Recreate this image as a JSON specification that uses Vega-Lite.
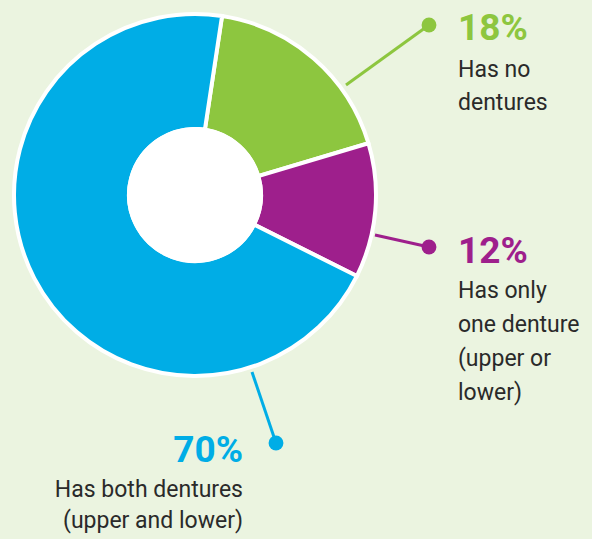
{
  "$schema": "https://vega.github.io/schema/vega-lite/v6.json",
  "width": 390,
  "height": 390,
  "autosize": {"type": "none"},
  "padding": {"left": 0, "top": 0, "right": 202, "bottom": 149},
  "background": "#ebf4e0",
  "config": {"view": {"stroke": null}, "font": "Roboto"},
  "datasets": {
    "slices": [
      {"cat": "No dentures", "pct": 18, "ord": 1},
      {"cat": "One denture", "pct": 12, "ord": 2},
      {"cat": "Both dentures", "pct": 70, "ord": 3}
    ],
    "hole": [{"v": 100}],
    "leaders": [
      {"cat": "No dentures", "x": 346, "y": 85, "x2": 429, "y2": 25},
      {"cat": "One denture", "x": 375, "y": 235, "x2": 429, "y2": 247},
      {"cat": "Both dentures", "x": 252, "y": 372, "x2": 276, "y2": 443}
    ],
    "pcts": [
      {"cat": "No dentures", "t": "18%", "x": 458, "y": 40, "side": "left"},
      {"cat": "One denture", "t": "12%", "x": 458, "y": 263, "side": "left"},
      {"cat": "Both dentures", "t": "70%", "x": 243, "y": 462, "side": "right"}
    ],
    "lines": [
      {"t": "Has no", "x": 458, "y": 77, "side": "left"},
      {"t": "dentures", "x": 458, "y": 110, "side": "left"},
      {"t": "Has only", "x": 458, "y": 298, "side": "left"},
      {"t": "one denture", "x": 458, "y": 332, "side": "left"},
      {"t": "(upper or", "x": 458, "y": 366, "side": "left"},
      {"t": "lower)", "x": 458, "y": 400, "side": "left"},
      {"t": "Has both dentures", "x": 243, "y": 497, "side": "right"},
      {"t": "(upper and lower)", "x": 243, "y": 528, "side": "right"}
    ]
  },
  "layer": [
    {
      "data": {"name": "slices"},
      "mark": {"type": "arc", "outerRadius": 181, "innerRadius": 66, "stroke": "white", "strokeWidth": 4},
      "encoding": {
        "theta": {"field": "pct", "type": "quantitative", "stack": true, "scale": {"domain": [0, 100], "range": [0.15, 6.4332]}},
        "order": {"field": "ord", "type": "quantitative"},
        "color": {"field": "cat", "type": "nominal", "legend": null,
          "scale": {"domain": ["No dentures", "One denture", "Both dentures"], "range": ["#8dc63f", "#9e1f8c", "#00ade6"]}}
      }
    },
    {
      "data": {"name": "hole"},
      "mark": {"type": "arc", "outerRadius": 68, "innerRadius": 0, "fill": "white", "strokeWidth": 0},
      "encoding": {
        "theta": {"field": "v", "type": "quantitative", "stack": null, "scale": null}
      }
    },
    {
      "data": {"name": "leaders"},
      "mark": {"type": "rule", "strokeWidth": 3, "clip": false},
      "encoding": {
        "x": {"field": "x", "type": "quantitative", "axis": null, "scale": {"domain": [0, 390], "nice": false, "zero": false}},
        "y": {"field": "y", "type": "quantitative", "axis": null, "scale": {"domain": [0, 390], "nice": false, "zero": false, "reverse": true}},
        "x2": {"field": "x2"},
        "y2": {"field": "y2"},
        "color": {"field": "cat", "type": "nominal", "legend": null}
      }
    },
    {
      "data": {"name": "leaders"},
      "mark": {"type": "circle", "size": 220, "opacity": 1, "clip": false},
      "encoding": {
        "x": {"field": "x2", "type": "quantitative"},
        "y": {"field": "y2", "type": "quantitative"},
        "color": {"field": "cat", "type": "nominal", "legend": null}
      }
    },
    {
      "data": {"name": "pcts"},
      "transform": [{"filter": "datum.side === 'left'"}],
      "mark": {"type": "text", "align": "left", "baseline": "alphabetic", "fontSize": 37, "fontWeight": "bold", "clip": false},
      "encoding": {
        "x": {"field": "x", "type": "quantitative"},
        "y": {"field": "y", "type": "quantitative"},
        "text": {"field": "t"},
        "color": {"field": "cat", "type": "nominal", "legend": null}
      }
    },
    {
      "data": {"name": "pcts"},
      "transform": [{"filter": "datum.side === 'right'"}],
      "mark": {"type": "text", "align": "right", "baseline": "alphabetic", "fontSize": 37, "fontWeight": "bold", "clip": false},
      "encoding": {
        "x": {"field": "x", "type": "quantitative"},
        "y": {"field": "y", "type": "quantitative"},
        "text": {"field": "t"},
        "color": {"field": "cat", "type": "nominal", "legend": null}
      }
    },
    {
      "data": {"name": "lines"},
      "transform": [{"filter": "datum.side === 'left'"}],
      "mark": {"type": "text", "align": "left", "baseline": "alphabetic", "fontSize": 23, "color": "#2a2a2a", "clip": false},
      "encoding": {
        "x": {"field": "x", "type": "quantitative"},
        "y": {"field": "y", "type": "quantitative"},
        "text": {"field": "t"}
      }
    },
    {
      "data": {"name": "lines"},
      "transform": [{"filter": "datum.side === 'right'"}],
      "mark": {"type": "text", "align": "right", "baseline": "alphabetic", "fontSize": 23, "color": "#2a2a2a", "clip": false},
      "encoding": {
        "x": {"field": "x", "type": "quantitative"},
        "y": {"field": "y", "type": "quantitative"},
        "text": {"field": "t"}
      }
    }
  ]
}
